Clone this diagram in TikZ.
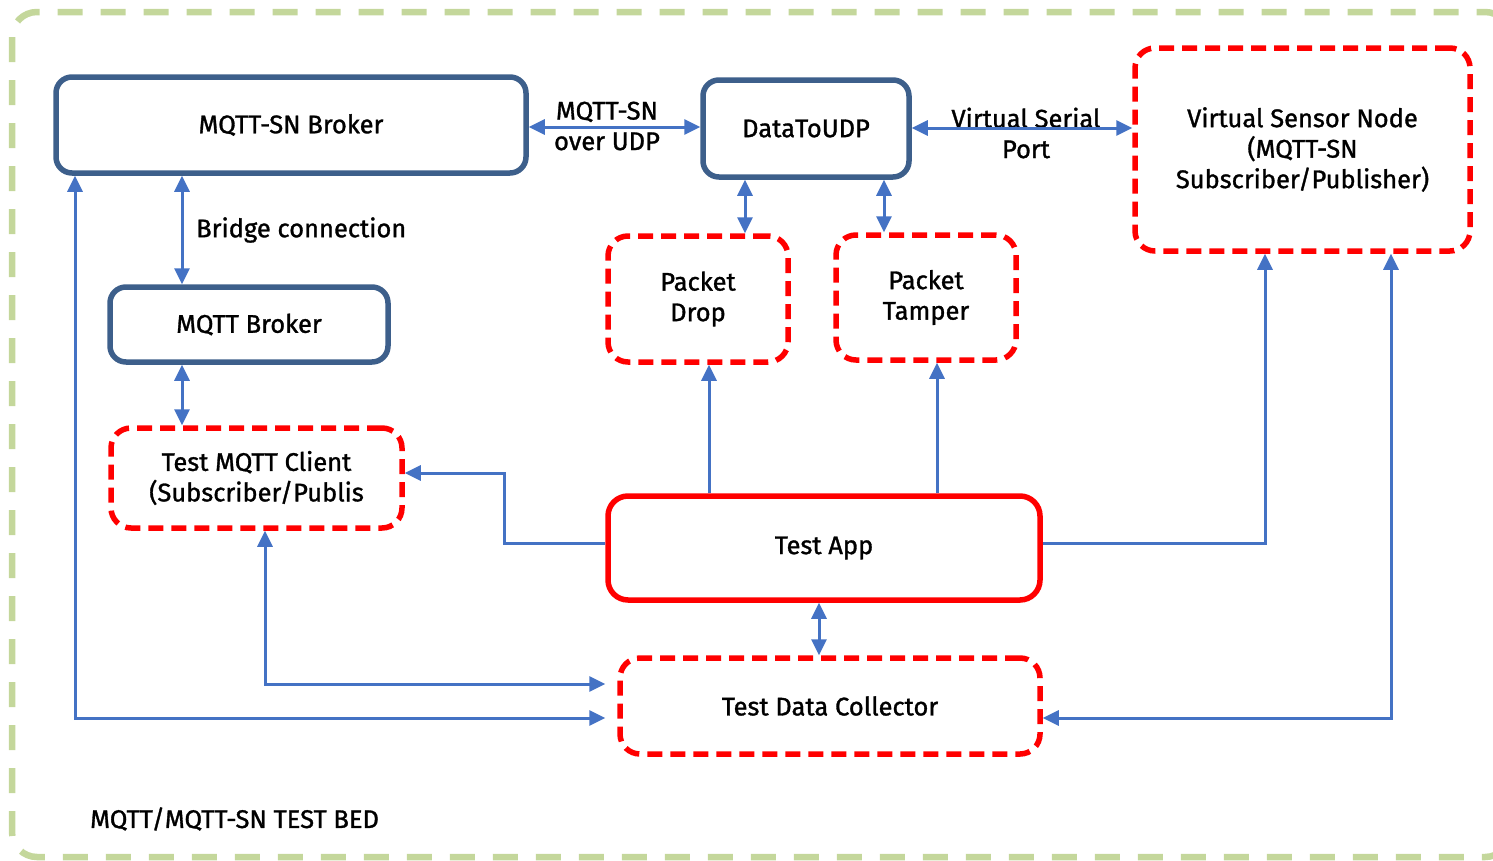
\documentclass[tikz,border=0pt]{standalone}
\usepackage{fontspec}
\setmainfont[FakeBold=1.2]{Fira Sans}
\usetikzlibrary{arrows.meta}
\definecolor{bbox}{HTML}{3D5F8B}
\definecolor{lblue}{HTML}{4472C4}
\definecolor{bgreen}{HTML}{C4D79B}
\begin{document}
\begin{tikzpicture}[x=1pt,y=-1pt,
  every node/.style={font=\fontsize{25.5}{30.5}\selectfont, align=center, inner sep=0pt},
  solidbox/.style={draw=bbox, line width=5.5pt, rounded corners=16pt},
  dashbox/.style={draw=red, line width=5.5pt, rounded corners=20pt, dash pattern=on 15pt off 8pt},
  redbox/.style={draw=red, line width=5.5pt, rounded corners=20pt},
  tip/.tip={Triangle[length=16pt,width=15pt]},
  conn/.style={draw=lblue, line width=3pt, -tip},
  bconn/.style={draw=lblue, line width=3pt, tip-tip}]
\useasboundingbox (0,0) rectangle (1493,860);
\draw[bgreen, line width=6.5pt, dash pattern=on 25pt off 18pt, rounded corners=25pt] (12,12) rectangle (1510,857);

\node[solidbox, minimum width=470pt, minimum height=96pt] (snb) at (291,125) {MQTT-SN Broker};
\node[solidbox, minimum width=206pt, minimum height=97pt] (dtu) at (806,128.5) {DataToUDP};
\node[dashbox, minimum width=335pt, minimum height=203pt] (vsn) at (1302.5,149.5) {Virtual Sensor Node\\(MQTT-SN\\Subscriber/Publisher)};
\node[dashbox, minimum width=180pt, minimum height=126pt] (pd) at (698,299) {Packet\\Drop};
\node[dashbox, minimum width=180pt, minimum height=125pt] (pt) at (926,297.5) {Packet\\Tamper};
\node[solidbox, minimum width=278pt, minimum height=75pt] (mb) at (249,324.5) {MQTT Broker};
\node[dashbox, minimum width=291pt, minimum height=100pt] (tmc) at (256.5,478) {Test MQTT Client\\(Subscriber/Publis};
\node[redbox, minimum width=432pt, minimum height=104pt] (ta) at (824,548) {Test App};
\node[dashbox, minimum width=420pt, minimum height=96pt] (tdc) at (830,706) {Test Data Collector};

\node (l1) at (607,126) {MQTT-SN\\over UDP};
\node (l2) at (1026,133) {Virtual Serial\\Port};
\node[anchor=west] (l3) at (196,230) {Bridge connection};
\node[anchor=west] (l4) at (90,819) {MQTT/MQTT-SN TEST BED};

\draw[bconn] (snb.east |- 0,127) -- (dtu.west |- 0,127);
\draw[bconn] (dtu.east |- 0,128) -- (vsn.west |- 0,128);
\draw[bconn] (dtu.south -| 745,0) -- (pd.north -| 745,0);
\draw[bconn] (dtu.south -| 884,0) -- (pt.north -| 884,0);
\draw[bconn] (snb.south -| 182,0) -- (mb.north -| 182,0);
\draw[bconn] (mb.south -| 182,0) -- (tmc.north -| 182,0);
\draw[conn] (ta.north -| 709,0) -- (pd.south -| 709,0);
\draw[conn] (ta.north -| 937,0) -- (pt.south -| 937,0);
\draw[conn] (ta.west |- 0,543) -| (504,473) -- (tmc.east |- 0,473);
\draw[conn] (ta.east |- 0,543) -| (vsn.south -| 1265,0);
\draw[bconn] (ta.south -| 819,0) -- (tdc.north -| 819,0);
\draw[bconn, shorten >=12pt] (tmc.south -| 265,0) |- (tdc.west |- 0,684);
\draw[bconn, shorten >=12pt] (snb.south -| 75,0) |- (tdc.west |- 0,718);
\draw[bconn] (vsn.south -| 1391,0) |- (tdc.east |- 0,718);
\end{tikzpicture}
\end{document}
